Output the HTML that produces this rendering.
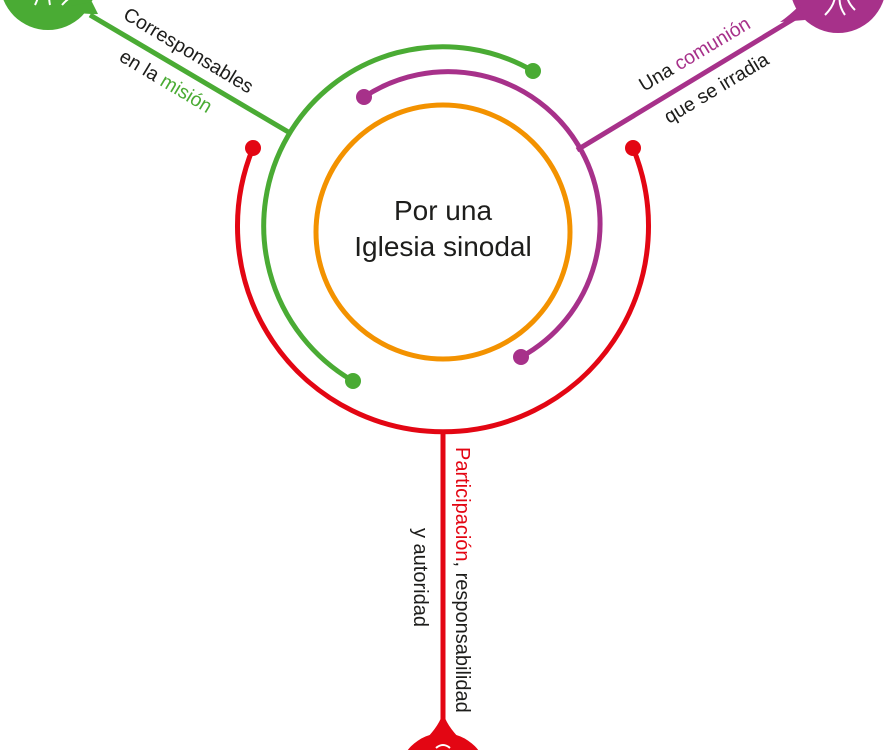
<!DOCTYPE html>
<html><head><meta charset="utf-8"><style>
html,body{margin:0;padding:0;background:#fff;overflow:hidden;width:887px;height:750px;}
svg{display:block;overflow:hidden;}
text{font-family:"Liberation Sans",sans-serif;}
</style></head><body>
<svg width="887" height="750" viewBox="0 0 887 750" xmlns="http://www.w3.org/2000/svg">
<!-- connectors -->
<line x1="90" y1="15" x2="290" y2="133" stroke="#4aab34" stroke-width="5"/>
<line x1="795" y1="18" x2="577" y2="150" stroke="#a7318a" stroke-width="5"/>
<line x1="443" y1="430" x2="443" y2="725" stroke="#e30613" stroke-width="5"/>
<!-- nodes -->
<circle cx="48" cy="-18" r="48" fill="#4aab34"/>
<path d="M60 8 Q80 15 98 14 L92 2Z" fill="#4aab34"/>
<g stroke="#fff" stroke-width="2" fill="none"><path d="M35 5 Q40 -5 38 -12"/><path d="M50 5 Q48 -5 50 -12"/><path d="M62 5 Q68 -2 75 -5"/></g>
<circle cx="838" cy="-15" r="48" fill="#a7318a"/>
<path d="M800 5 Q790 15 780 22 L805 20Z" fill="#a7318a"/>
<g stroke="#fff" stroke-width="2" fill="none"><path d="M825 15 Q835 5 835 -5"/><path d="M845 15 Q838 5 840 -5"/><path d="M855 10 Q845 0 848 -8"/></g>
<circle cx="443" cy="778" r="45" fill="#e30613"/>
<path d="M425 740 Q440 725 443 712 Q446 725 461 740Z" fill="#e30613"/>
<path d="M436 748 q7 -6 14 0" stroke="#fff" stroke-width="2" fill="none"/>
<!-- circles -->
<circle cx="443" cy="232" r="127" fill="none" stroke="#f39200" stroke-width="5"/>
<path d="M364 97 A152 152 0 1 1 521 357" fill="none" stroke="#a7318a" stroke-width="5"/>
<circle cx="364" cy="97" r="8" fill="#a7318a"/><circle cx="521" cy="357" r="8" fill="#a7318a"/>
<path d="M533 71 A179 179 0 1 0 353 381" fill="none" stroke="#4aab34" stroke-width="5"/>
<circle cx="533" cy="71" r="8" fill="#4aab34"/><circle cx="353" cy="381" r="8" fill="#4aab34"/>
<path d="M253 148 A205.5 205.5 0 1 0 633 148" fill="none" stroke="#e30613" stroke-width="5"/>
<circle cx="253" cy="148" r="8" fill="#e30613"/><circle cx="633" cy="148" r="8" fill="#e30613"/>
<!-- center text -->
<text x="443" y="220" font-size="28" text-anchor="middle" fill="#1d1d1b">Por una</text>
<text x="443" y="256" font-size="28" text-anchor="middle" fill="#1d1d1b">Iglesia sinodal</text>
<!-- labels -->
<text transform="translate(122,18) rotate(31)" font-size="19.5" fill="#1d1d1b">Corresponsables</text>
<text transform="translate(118,60) rotate(31)" font-size="19.5" fill="#1d1d1b">en la <tspan fill="#4aab34">misión</tspan></text>
<text transform="translate(644,92) rotate(-31)" font-size="19.5" fill="#1d1d1b">Una <tspan fill="#a7318a">comunión</tspan></text>
<text transform="translate(669,124) rotate(-31)" font-size="19.5" fill="#1d1d1b">que se irradia</text>
<text transform="translate(456,447) rotate(90)" font-size="20" fill="#1d1d1b"><tspan fill="#e30613">Participación</tspan>, responsabilidad</text>
<text transform="translate(414,528) rotate(90)" font-size="20" fill="#1d1d1b">y autoridad</text>
</svg>
</body></html>
